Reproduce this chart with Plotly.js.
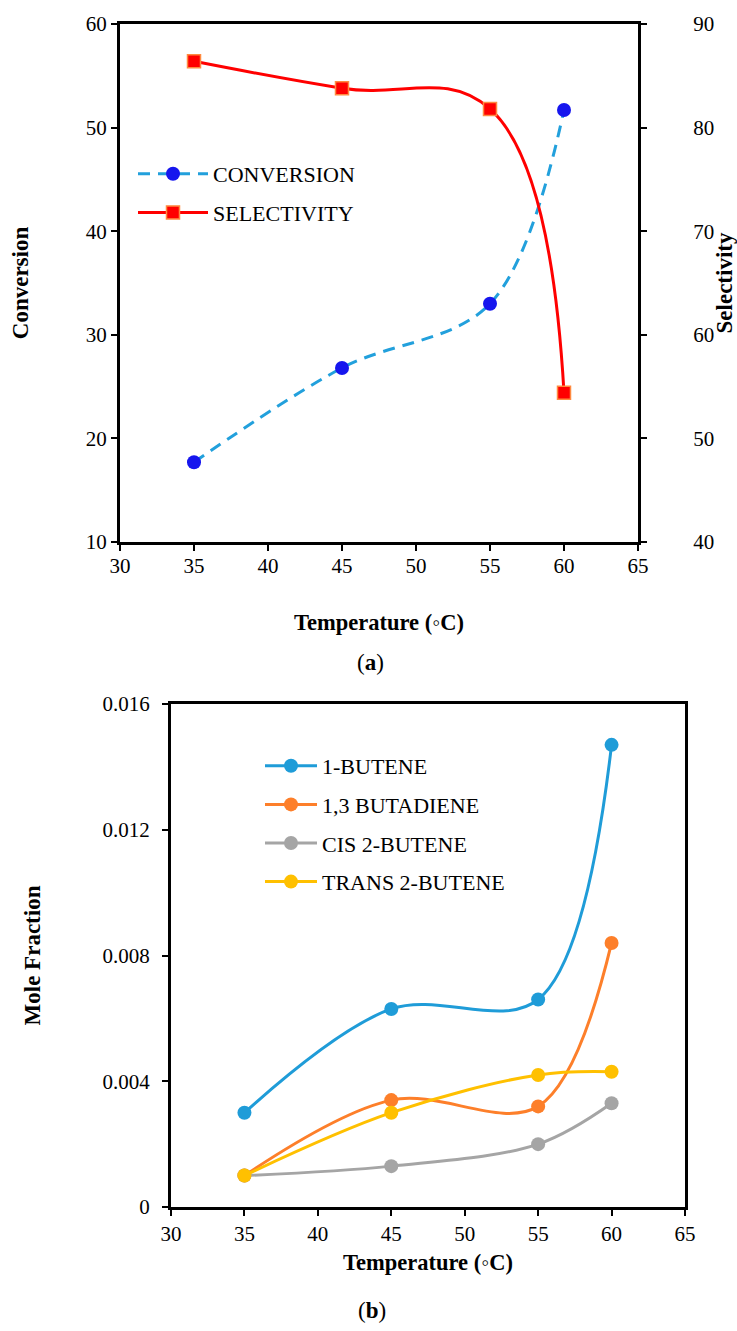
<!DOCTYPE html>
<html>
<head>
<meta charset="utf-8">
<script src="https://cdn.plot.ly/plotly-3.0.1.min.js"></script>
<style>html,body{margin:0;padding:0;background:#fff;}#chart{width:737px;height:1331px;}</style>
</head>
<body>
<div id="chart"></div>
<script>
// ---- Data ----
const temperature = [35, 45, 55, 60];
const conversion = [17.7, 26.8, 33.0, 51.7];
const selectivity = [86.4, 83.8, 81.8, 54.4];

const species = ["1-BUTENE", "1,3 BUTADIENE", "CIS 2-BUTENE", "TRANS 2-BUTENE"];
const butene1 = [0.0030, 0.0063, 0.0066, 0.0147];
const butadiene = [0.0010, 0.0034, 0.0032, 0.0084];
const cis2butene = [0.0010, 0.0013, 0.0020, 0.0033];
const trans2butene = [0.0010, 0.0030, 0.0042, 0.0043];

const xTicks = [30, 35, 40, 45, 50, 55, 60, 65];

// ---- Layout helpers ----
const W = 737, H = 1331;
const px = v => v / W;
const py = v => 1 - v / H;
const FONT = '"Liberation Serif", serif';

const speciesSeries = [butene1, butadiene, cis2butene, trans2butene];
const speciesColors = ["#1f9cd8", "#fd7f2a", "#a5a5a5", "#ffc000"];

const traces = [
  {
    x: temperature, y: conversion, name: "CONVERSION", type: "scatter", mode: "lines+markers",
    xaxis: "x", yaxis: "y", legend: "legend", legendgroup: "c",
    line: {color: "#22a0dc", width: 3, dash: "12px,8px", shape: "spline", smoothing: 1},
    marker: {color: "#1616ee", size: 14, symbol: "circle"}
  },
  {
    x: temperature, y: selectivity, name: "SELECTIVITY", type: "scatter", mode: "lines+markers",
    xaxis: "x", yaxis: "y2", legend: "legend", legendgroup: "s",
    line: {color: "#ff0000", width: 3, shape: "spline", smoothing: 1.2},
    marker: {color: "#ff0000", size: 13, symbol: "square", line: {color: "#ff8a40", width: 1.5}}
  }
];
species.forEach((nm, i) => {
  traces.push({
    x: temperature, y: speciesSeries[i], name: nm, type: "scatter", mode: "lines+markers",
    xaxis: "x2", yaxis: "y3", legend: "legend2", legendgroup: "g" + i,
    line: {color: speciesColors[i], width: 3, shape: "spline", smoothing: 1},
    marker: {color: speciesColors[i], size: 14}
  });
});

const axisCommon = {
  showgrid: false, zeroline: false, showline: true, linecolor: "#000", linewidth: 3,
  ticks: "outside", ticklen: 6, tickwidth: 2, tickcolor: "#000",
  tickfont: {family: FONT, size: 21, color: "#000"}
};

const layout = {
  width: W, height: H,
  margin: {l: 0, r: 0, t: 0, b: 0},
  paper_bgcolor: "#fff", plot_bgcolor: "#fff",
  font: {family: FONT, color: "#000"},
  showlegend: true,
  xaxis: Object.assign({}, axisCommon, {
    domain: [px(120), px(638)], anchor: "y", range: [30, 65], tickvals: xTicks, mirror: true,
    ticklabelstandoff: -3,
    title: {text: "<b>Temperature (◦C)</b>", font: {family: FONT, size: 22.5}, standoff: 38}
  }),
  yaxis: Object.assign({}, axisCommon, {
    domain: [py(542), py(24)], anchor: "x", range: [10, 60], dtick: 10,
    title: {text: "<b>Conversion</b>", font: {family: FONT, size: 23}, standoff: 51}
  }),
  yaxis2: Object.assign({}, axisCommon, {
    overlaying: "y", side: "right", anchor: "x", range: [40, 90], dtick: 10, ticklabelstandoff: 42,
    title: {text: "<b>Selectivity</b>", font: {family: FONT, size: 23}, standoff: 4}
  }),
  xaxis2: Object.assign({}, axisCommon, {
    domain: [px(171), px(685)], anchor: "y3", range: [30, 65], tickvals: xTicks, mirror: true,
    title: {text: "<b>Temperature (◦C)</b>", font: {family: FONT, size: 22.5}, standoff: 10}
  }),
  yaxis3: Object.assign({}, axisCommon, {
    domain: [py(1207), py(704)], anchor: "x2", range: [0, 0.016], dtick: 0.004, mirror: true,
    ticklabelstandoff: 8,
    title: {text: "<b>Mole Fraction</b>", font: {family: FONT, size: 23}, standoff: 56}
  }),
  legend: {
    x: px(133), y: py(153), xanchor: "left", yanchor: "top",
    bgcolor: "rgba(0,0,0,0)", font: {family: FONT, size: 22, color: "#000"},
    traceorder: "grouped", tracegroupgap: 7, itemwidth: 70
  },
  legend2: {
    x: px(260), y: py(745), xanchor: "left", yanchor: "top",
    bgcolor: "rgba(0,0,0,0)", font: {family: FONT, size: 22, color: "#000"},
    traceorder: "grouped", tracegroupgap: 7, itemwidth: 52
  },
  annotations: [
    {text: "(<b>a</b>)", xref: "paper", yref: "paper", x: px(370), y: py(663), showarrow: false,
     xanchor: "center", yanchor: "middle", font: {family: FONT, size: 23, color: "#000"}},
    {text: "(<b>b</b>)", xref: "paper", yref: "paper", x: px(372), y: py(1310), showarrow: false,
     xanchor: "center", yanchor: "middle", font: {family: FONT, size: 23, color: "#000"}}
  ]
};

Plotly.newPlot("chart", traces, layout, {staticPlot: true, displayModeBar: false});
</script>
</body>
</html>
